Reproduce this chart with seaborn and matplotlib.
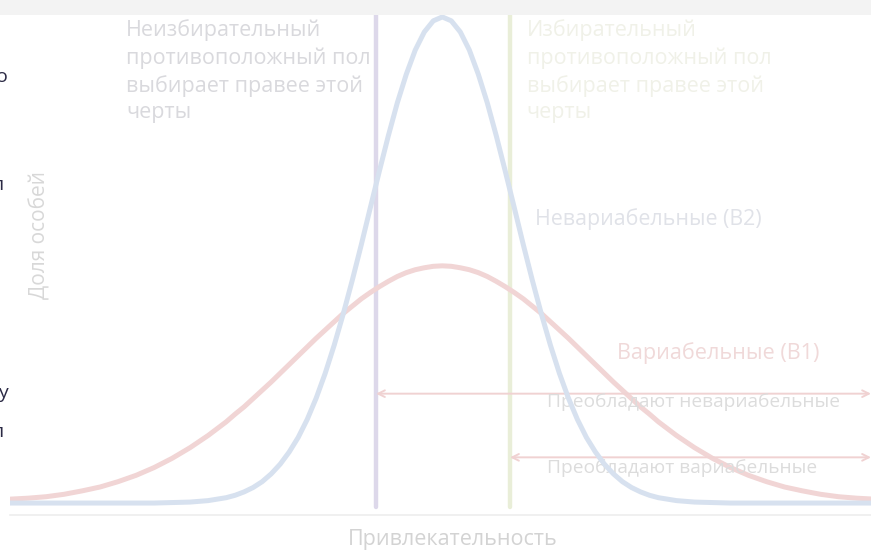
import numpy as np
import pandas as pd
import matplotlib
matplotlib.use("Agg")
import matplotlib.pyplot as plt
from matplotlib.patches import Rectangle
import seaborn as sns

# CONFIGURATION
sns.set_theme(style="white")
plt.rcParams['font.family'] = ['Open Sans', 'DejaVu Sans']

# Attractiveness axis (arbitrary units, 0 = population mean)
attractiveness = [-6.0, -5.75, -5.5, -5.25, -5.0, -4.75, -4.5, -4.25, -4.0, -3.75, -3.5, -3.25,
                  -3.0, -2.875, -2.75, -2.625, -2.5, -2.375, -2.25, -2.125, -2.0, -1.875,
                  -1.75, -1.625, -1.5, -1.375, -1.25, -1.125, -1.0, -0.875, -0.75, -0.625,
                  -0.5, -0.375, -0.25, -0.125, 0.0,
                  0.125, 0.25, 0.375, 0.5, 0.625, 0.75, 0.875, 1.0, 1.125, 1.25, 1.375,
                  1.5, 1.625, 1.75, 1.875, 2.0, 2.125, 2.25, 2.375, 2.5, 2.625, 2.75, 2.875,
                  3.0, 3.25, 3.5, 3.75, 4.0, 4.25, 4.5, 4.75, 5.0, 5.25, 5.5, 5.75, 6.0]

# Share of individuals, non-variable population (B2)
share_b2 = [0.0, 0.0, 0.0, 0.0, 0.0, 0.0, 0.0, 0.0, 0.0, 0.001, 0.002, 0.005,
            0.011, 0.016, 0.023, 0.032, 0.044, 0.060, 0.080, 0.105, 0.135, 0.172,
            0.216, 0.267, 0.325, 0.389, 0.458, 0.531, 0.607, 0.682, 0.755, 0.823,
            0.882, 0.932, 0.969, 0.992, 1.0,
            0.992, 0.969, 0.932, 0.882, 0.823, 0.755, 0.682, 0.607, 0.531, 0.458, 0.389,
            0.325, 0.267, 0.216, 0.172, 0.135, 0.105, 0.080, 0.060, 0.044, 0.032, 0.023, 0.016,
            0.011, 0.005, 0.002, 0.001, 0.0, 0.0, 0.0, 0.0, 0.0, 0.0, 0.0, 0.0, 0.0]

# Share of individuals, variable population (B1)
share_b1 = [0.008, 0.010, 0.013, 0.018, 0.025, 0.033, 0.044, 0.057, 0.073, 0.092, 0.114, 0.139,
            0.167, 0.183, 0.198, 0.215, 0.232, 0.249, 0.267, 0.285, 0.303, 0.321,
            0.339, 0.356, 0.373, 0.390, 0.405, 0.420, 0.433, 0.445, 0.456, 0.466,
            0.474, 0.480, 0.484, 0.487, 0.488,
            0.487, 0.484, 0.480, 0.474, 0.466, 0.456, 0.445, 0.433, 0.420, 0.405, 0.390,
            0.373, 0.356, 0.339, 0.321, 0.303, 0.285, 0.267, 0.249, 0.232, 0.215, 0.198, 0.183,
            0.167, 0.139, 0.114, 0.092, 0.073, 0.057, 0.044, 0.033, 0.025, 0.018, 0.013, 0.010, 0.008]

# Choice thresholds: non-selective / selective partner
thresholds = [-0.92, 0.94]

df = pd.DataFrame({"x": attractiveness, "B2": share_b2, "B1": share_b1})

fig = plt.figure(figsize=(8.71, 5.5), dpi=100)
fig.patch.set_facecolor("white")
fig.patches.append(Rectangle((0, 1 - 15 / 550), 1, 15 / 550, transform=fig.transFigure,
                             facecolor="#f3f3f3", edgecolor="none", zorder=0))

ax = fig.add_axes([10 / 871, 35 / 550, 861 / 871, 500 / 550])
ax.set_facecolor("white")

sns.lineplot(data=df, x="x", y="B1", ax=ax, color="#f1d5d5", lw=3.6,
             solid_capstyle="round", zorder=3)
sns.lineplot(data=df, x="x", y="B2", ax=ax, color="#d7e1ef", lw=3.6,
             solid_capstyle="round", zorder=4)

ax.plot([thresholds[0]] * 2, [-0.008, 1.1], color="#ddd8ea", lw=3.2, zorder=2)
ax.plot([thresholds[1]] * 2, [-0.008, 1.1], color="#e9eed8", lw=3.2, zorder=2)

ax.set_xlim(-6.0, 5.95)
ax.set_ylim(-0.0246, 1.004)
ax.set_xticks([])
ax.set_yticks([])
ax.set_xlabel("")
ax.set_ylabel("")
for side in ["top", "left", "right"]:
    ax.spines[side].set_visible(False)
ax.spines["bottom"].set_color("#eeeeee")
ax.spines["bottom"].set_linewidth(1.2)

# arrows
arrow_kw = dict(arrowstyle="<->", color="#f0d2d2", lw=1.4, mutation_scale=12,
                shrinkA=0, shrinkB=0)
ax.annotate("", xy=(thresholds[0], 0.225), xytext=(5.95, 0.225),
            arrowprops=arrow_kw, annotation_clip=False)
ax.annotate("", xy=(thresholds[1], 0.094), xytext=(5.95, 0.094),
            arrowprops=arrow_kw, annotation_clip=False)

txt = dict(fontsize=15.5, linespacing=1.36, va="top", ha="left")
ax.text(-4.39, 0.995, "Неизбирательный\nпротивоположный пол\nвыбирает правее этой\nчерты",
        color="#d9d9dd", **txt)
ax.text(1.17, 0.995, "Избирательный\nпротивоположный пол\nвыбирает правее этой\nчерты",
        color="#f0f1e8", **txt)

ax.text(1.28, 0.584, "Невариабельные (В2)", color="#e0e2e8", fontsize=15.4,
        va="center", ha="left")
ax.text(2.43, 0.309, "Вариабельные (В1)", color="#f0d9d9", fontsize=15.6,
        va="center", ha="left")
ax.text(1.46, 0.208, "Преобладают невариабельные", color="#dcdcdc", fontsize=13.8,
        va="center", ha="left")
ax.text(1.46, 0.072, "Преобладают вариабельные", color="#dcdcdc", fontsize=13.8,
        va="center", ha="left")

fig.text(40 / 871, 1 - 235 / 550, "Доля особей", rotation=90, color="#d8d8d8",
         fontsize=15, ha="center", va="center")
fig.text(453 / 871, 1 - 540 / 550, "Привлекательность", color="#d3d3d3",
         fontsize=15.5, ha="center", va="center")

# cut-off fragments of neighbouring text at the left edge
for yy, ch, xr in [(77, "о", 8), (185, "л", 4), (393, "у", 8), (432, "л", 4)]:
    fig.text(xr / 871, 1 - yy / 550, ch, color="#2b2a45", fontsize=14,
             ha="right", va="center")

fig.savefig("out.png", dpi=100)
